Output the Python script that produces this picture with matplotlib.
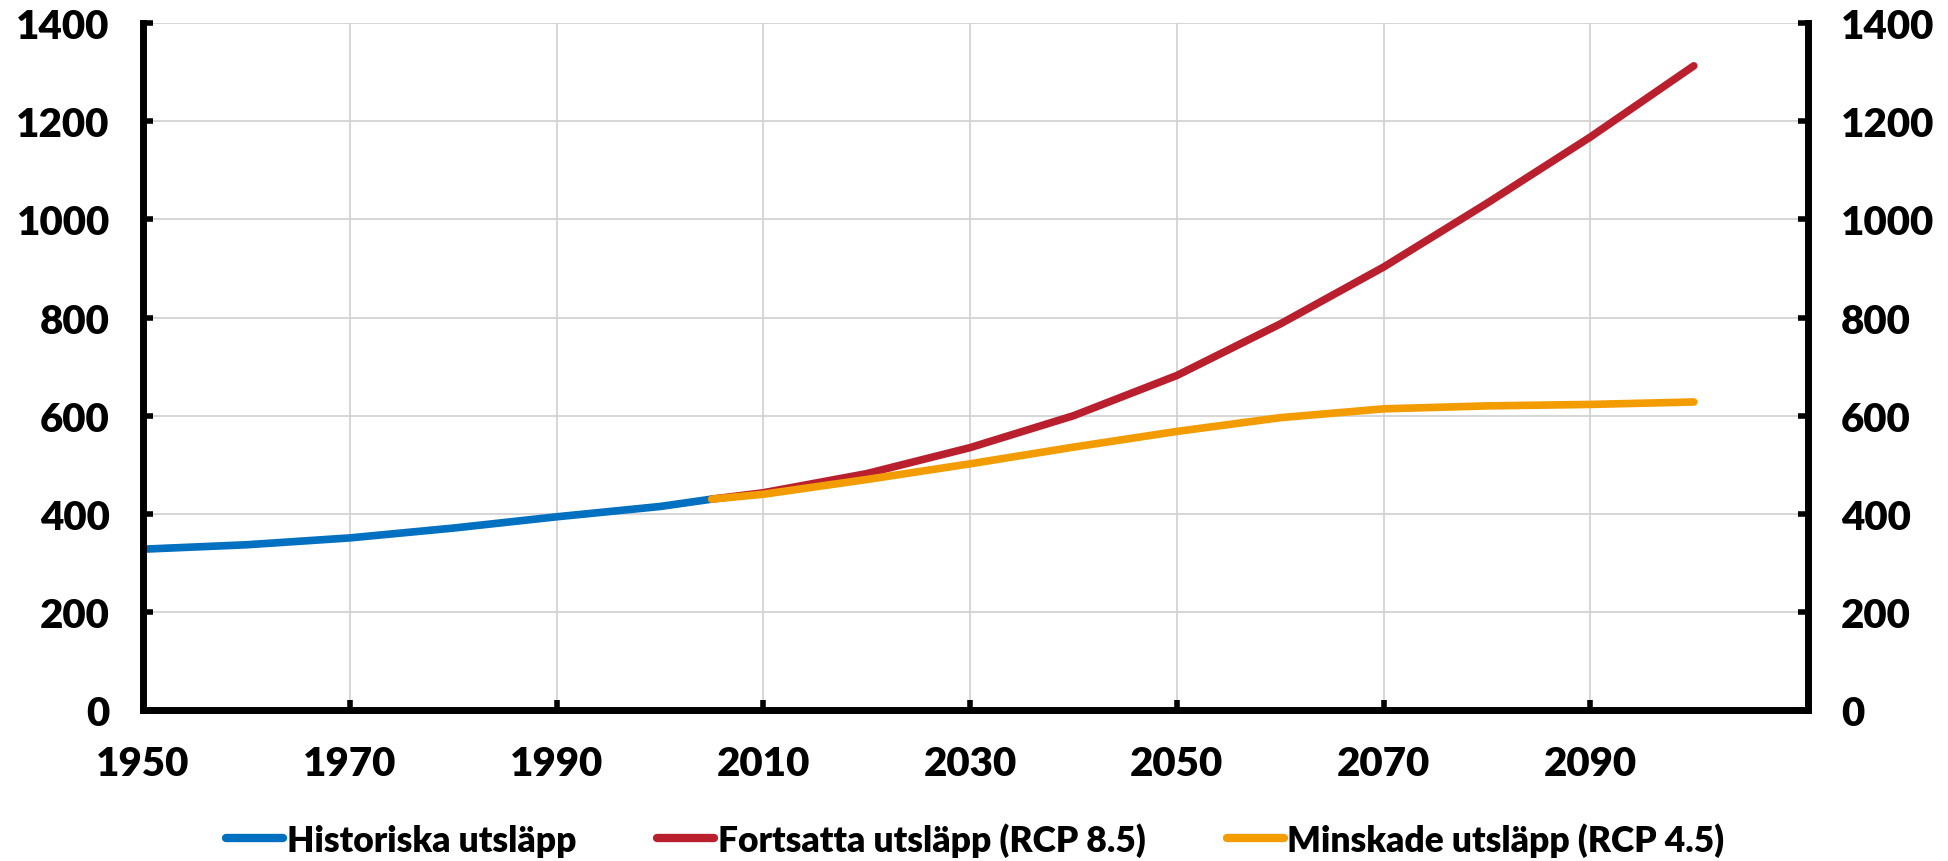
import numpy as np
import matplotlib
matplotlib.use("Agg")
import matplotlib.pyplot as plt

plt.rcParams['font.family'] = ['Lato', 'DejaVu Sans']
plt.rcParams['font.weight'] = 'heavy'

# historical emissions (ppm CO2-eq)
hist_years = [1950, 1960, 1970, 1980, 1990, 2000, 2005]
hist_vals = [328, 337, 351, 371, 394, 415, 430]

# scenarios
scen_years = [2005, 2010, 2020, 2030, 2040, 2050, 2060, 2070, 2080, 2090, 2100]
rcp85 = [430, 443, 482, 535, 600, 682, 787, 903, 1033, 1168, 1313]
rcp45 = [430, 440, 470, 502, 536, 568, 596, 614, 620, 623, 628]

labels = ['Historiska utsläpp', 'Fortsatta utsläpp (RCP 8.5)', 'Minskade utsläpp (RCP 4.5)']
colors = ['#0070C0', '#BA1F2E', '#F39C00']

x_ticks = list(range(1950, 2100, 20))
y_ticks = list(range(0, 1401, 200))

fig = plt.figure(figsize=(19.49, 8.62), dpi=100)
ax = fig.add_axes([0.0734, 0.175, 0.854, 0.797])

lw = 5.5
ax.plot(hist_years, hist_vals, color=colors[0], lw=lw, solid_capstyle='round', label=labels[0])
ax.plot(scen_years, rcp85, color=colors[1], lw=lw, solid_capstyle='round', label=labels[1])
ax.plot(scen_years, rcp45, color=colors[2], lw=lw, solid_capstyle='round', label=labels[2])

ax.set_xlim(1950, 2111)
ax.set_ylim(0, 1400)
ax.set_xticks(x_ticks)
ax.set_yticks(y_ticks)
ax.grid(True, color='#d0d0d0', lw=1.2)
ax.set_axisbelow(True)

for side in ['left', 'bottom', 'right']:
    ax.spines[side].set_linewidth(5)
    ax.spines[side].set_color('black')
ax.spines['top'].set_visible(False)

ax.tick_params(axis='y', direction='in', length=7, width=4, labelsize=29,
               left=True, right=True, labelleft=True, labelright=True, pad=24)
ax.tick_params(axis='x', direction='in', length=7, width=4, labelsize=29, pad=25)
for t in ax.get_yticklabels() + ax.get_xticklabels():
    t.set_fontweight('heavy')

leg = ax.legend(loc='center', bbox_to_anchor=(0.5, -0.188), ncol=3, frameon=False,
                prop={'size': 25.5, 'weight': 'heavy'}, handlelength=1.6,
                handletextpad=0.1, columnspacing=2.3)
for h in leg.get_lines():
    h.set_linewidth(6)
    h.set_solid_capstyle('round')

fig.savefig('out.png', dpi=100)
